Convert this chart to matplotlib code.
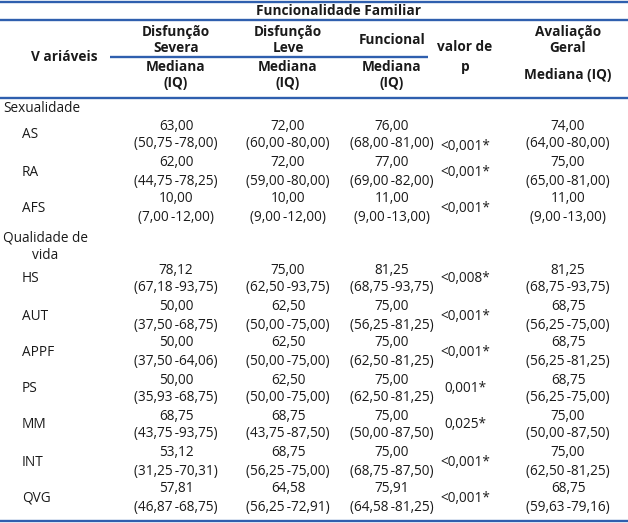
import matplotlib
matplotlib.use("Agg")
import matplotlib.pyplot as plt

# ---- data ----
groups = ["Sexualidade", "Qualidade de\nvida"]
variables = ["AS", "RA", "AFS", "HS", "AUT", "APPF", "PS", "MM", "INT", "QVG"]
severa_med = ["63,00", "62,00", "10,00", "78,12", "50,00", "50,00", "50,00", "68,75", "53,12", "57,81"]
severa_iq = ["(50,75\u2009-78,00)", "(44,75\u2009-78,25)", "(7,00\u2009-12,00)", "(67,18\u2009-93,75)", "(37,50\u2009-68,75)",
             "(37,50\u2009-64,06)", "(35,93\u2009-68,75)", "(43,75\u2009-93,75)", "(31,25\u2009-70,31)", "(46,87\u2009-68,75)"]
leve_med = ["72,00", "72,00", "10,00", "75,00", "62,50", "62,50", "62,50", "68,75", "68,75", "64,58"]
leve_iq = ["(60,00\u2009-80,00)", "(59,00\u2009-80,00)", "(9,00\u2009-12,00)", "(62,50\u2009-93,75)", "(50,00\u2009-75,00)",
           "(50,00\u2009-75,00)", "(50,00\u2009-75,00)", "(43,75\u2009-87,50)", "(56,25\u2009-75,00)", "(56,25\u2009-72,91)"]
func_med = ["76,00", "77,00", "11,00", "81,25", "75,00", "75,00", "75,00", "75,00", "75,00", "75,91"]
func_iq = ["(68,00\u2009-81,00)", "(69,00\u2009-82,00)", "(9,00\u2009-13,00)", "(68,75\u2009-93,75)", "(56,25\u2009-81,25)",
           "(62,50\u2009-81,25)", "(62,50\u2009-81,25)", "(50,00\u2009-87,50)", "(68,75\u2009-87,50)", "(64,58\u2009-81,25)"]
p_values = ["<0,001*", "<0,001*", "<0,001*", "<0,008*", "<0,001*", "<0,001*", "0,001*", "0,025*", "<0,001*", "<0,001*"]
geral_med = ["74,00", "75,00", "11,00", "81,25", "68,75", "68,75", "68,75", "75,00", "75,00", "68,75"]
geral_iq = ["(64,00\u2009-80,00)", "(65,00\u2009-81,00)", "(9,00\u2009-13,00)", "(68,75\u2009-93,75)", "(56,25\u2009-75,00)",
            "(56,25\u2009-81,25)", "(56,25\u2009-75,00)", "(50,00\u2009-87,50)", "(62,50\u2009-81,25)", "(59,63\u2009-79,16)"]

# ---- layout ----
W, H = 628, 523
fig = plt.figure(figsize=(W / 100, H / 100), dpi=100)
ax = fig.add_axes([0, 0, 1, 1])
ax.set_xlim(0, W)
ax.set_ylim(H, 0)
ax.axis("off")

FONT = ["Open Sans", "DejaVu Sans"]
FS = 9.8
LINE = "#2f5fae"
TXT = "#1a1a1a"

def t(x, y, s, bold=False, ha="center", **kw):
    ax.text(x, y, s, ha=ha, va="center", fontsize=FS, family=FONT,
            fontweight="bold" if bold else "normal", color=TXT, **kw)

cx = [176, 288, 392, 465, 568]
xvar = 64

# rules
for y in (2, 20, 98):
    ax.plot([0, W], [y, y], color=LINE, lw=1.7, solid_capstyle="butt")
ax.plot([0, W], [521, 521], color=LINE, lw=1.7, solid_capstyle="butt")
ax.plot([110, 428], [57, 57], color=LINE, lw=1.7, solid_capstyle="butt")

# header
t(338, 11, "Funcionalidade Familiar", bold=True)
t(xvar, 57, "V ariáveis", bold=True)
t(cx[0], 40, "Disfunção\nSevera", bold=True, linespacing=1.15)
t(cx[1], 40, "Disfunção\nLeve", bold=True, linespacing=1.15)
t(cx[2], 40, "Funcional", bold=True)
t(cx[3], 57, "valor de\np", bold=True, linespacing=1.6)
t(cx[4], 40, "Avaliação\nGeral", bold=True, linespacing=1.15)
for c in cx[:3]:
    t(c, 75, "Mediana\n(IQ)", bold=True, linespacing=1.15)
t(cx[4], 75, "Mediana (IQ)", bold=True)

# body
t(3, 109, groups[0], ha="left")
t(3, 247, groups[1], ha="left", multialignment="center", linespacing=1.2)

row_y = [135, 172, 208, 279, 316, 352, 389, 425, 462, 498]
dy = 9
meds = [severa_med, leve_med, func_med, None, geral_med]
iqs = [severa_iq, leve_iq, func_iq, None, geral_iq]
for i, var in enumerate(variables):
    y = row_y[i]
    t(22, y, var, ha="left")
    for j in (0, 1, 2, 4):
        t(cx[j], y - dy, meds[j][i])
        t(cx[j], y + dy, iqs[j][i])
    py = y + dy + 2 if i == 0 else y
    t(cx[3], py, p_values[i])

fig.savefig("out.png", dpi=100)
